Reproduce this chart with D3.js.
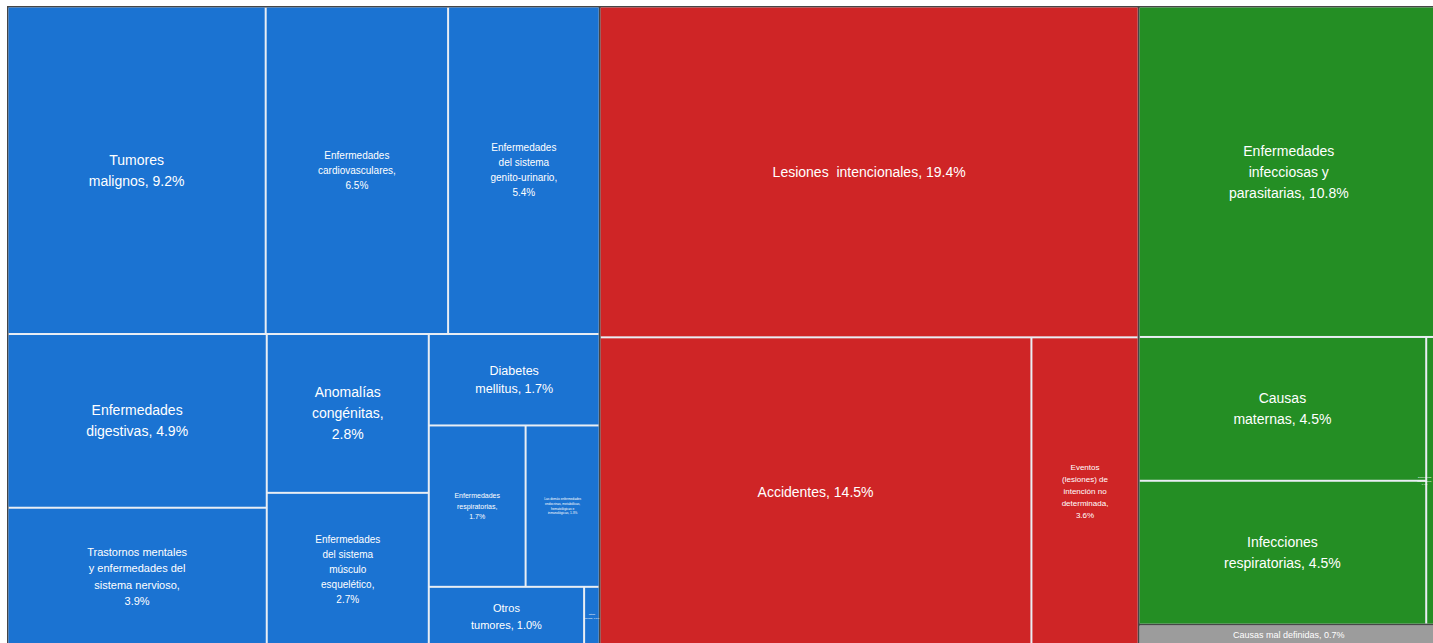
<html>
<head>
<script src="https://d3js.org/d3.v7.min.js"></script>
<style>
  body { margin: 0; background: #fff; }
  text { font-family: "Liberation Sans", Arial, sans-serif; fill: #fff; }
</style>
</head>
<body>
<svg id="treemap" width="1433" height="643"></svg>
<script>
// groups of causes (top level)
const groupNames = ["No transmisibles", "Lesiones", "Transmisibles", "Mal definidas"];
const groupColors = ["#1b73d2", "#cf2526", "#248e24", "#9c9c9c"];

// causes per group, "|" = line break, {v} = value
const blueCauses = [
  "Tumores|malignos, {v}%",
  "Enfermedades|cardiovasculares,|{v}%",
  "Enfermedades|del sistema|genito-urinario,|{v}%",
  "Enfermedades|digestivas, {v}%",
  "Trastornos mentales|y enfermedades del|sistema nervioso,|{v}%",
  "Anomalías|congénitas,|{v}%",
  "Enfermedades|del sistema|músculo|esquelético,|{v}%",
  "Diabetes|mellitus, {v}%",
  "Enfermedades|respiratorias,|{v}%",
  "Las demás enfermedades|endocrinas, metabólicas,|hematológicas e|inmunológicas, {v}%",
  "Otros|tumores, {v}%",
  "Otras|causas, {v}%"
];
const blueValues = [9.2, 6.5, 5.4, 4.9, 3.9, 2.8, 2.7, 1.7, 1.7, 1.3, 1.0, 0.1];

const redCauses = [
  "Lesiones  intencionales, {v}%",
  "Accidentes, {v}%",
  "Eventos|(lesiones) de|intención no|determinada,|{v}%"
];
const redValues = [19.4, 14.5, 3.6];

const greenCauses = [
  "Enfermedades|infecciosas y|parasitarias, {v}%",
  "Causas|maternas, {v}%",
  "Infecciones|respiratorias, {v}%",
  "Deficiencias|nutricionales,|{v}%"
];
const greenValues = [10.8, 4.5, 4.5, 0.4];

const grayCauses = ["Causas mal definidas, {v}%"];
const grayValues = [0.7];

// font size of each label (style, by group then index)
const labelSizes = [
  [14, 10, 10, 14, 11, 14, 10, 12.5, 7, 3.2, 11, 2.5],
  [14, 14, 8],
  [14, 14, 14, 2.5],
  [9]
];

// how many children go in each strip of the layout
const rowBreaks = {
  root: [1, 1, 1, 1],
  "No transmisibles": [3, 2, 2, 1, 2, 1, 1],
  "Lesiones": [1, 1, 1],
  "Transmisibles": [1, 2, 1],
  "Mal definidas": [1]
};

const causeLists = [blueCauses, redCauses, greenCauses, grayCauses];
const valueLists = [blueValues, redValues, greenValues, grayValues];

const data = {
  name: "root",
  children: groupNames.map((g, gi) => ({
    name: g,
    group: gi,
    children: causeLists[gi].map((c, i) => ({
      name: c, value: valueLists[gi][i], group: gi, index: i
    }))
  }))
};

// strips laid out like squarify, but with fixed row breaks
function stripTile(node, x0, y0, x1, y1) {
  const breaks = rowBreaks[node.data.name];
  let rest = node.value, i = 0;
  breaks.forEach(count => {
    const kids = node.children.slice(i, i + count);
    i += count;
    const sum = d3.sum(kids, d => d.value);
    const row = {children: kids, value: sum};
    const dx = x1 - x0, dy = y1 - y0;
    if (dx < dy) {
      const yy = y0 + dy * sum / rest;
      d3.treemapDice(row, x0, y0, x1, yy);
      y0 = yy;
    } else {
      const xx = x0 + dx * sum / rest;
      d3.treemapSlice(row, x0, y0, xx, y1);
      x0 = xx;
    }
    rest -= sum;
  });
}

const svg = d3.select('svg#treemap');
const width = +svg.attr('width');
const height = +svg.attr('height');
const margins = {left: 8.5, top: 7.5};

// dark frame behind everything
svg.append('rect')
  .attr('x', 7).attr('y', 6)
  .attr('width', width - 7).attr('height', height - 6)
  .attr('fill', '#464646');

const root = d3.hierarchy(data).sum(d => d.value || 0);

d3.treemap()
  .size([1438 - margins.left, 645 - margins.top])
  .tile(stripTile)
  .paddingInner(2)
  (root);

const chartArea = svg.append('g')
  .attr('transform', `translate(${margins.left},${margins.top})`);

// group backgrounds (white lines between leaves)
chartArea.append('g').selectAll('rect')
  .data(root.children)
  .join('rect')
  .attr('x', d => d.x0).attr('y', d => d.y0)
  .attr('width', d => d.x1 - d.x0).attr('height', d => d.y1 - d.y0)
  .attr('fill', '#e9eef4');

const leaves = chartArea.append('g').selectAll('g')
  .data(root.leaves())
  .join('g');

leaves.append('rect')
  .attr('x', d => d.x0).attr('y', d => d.y0)
  .attr('width', d => Math.max(0, d.x1 - d.x0))
  .attr('height', d => Math.max(0, d.y1 - d.y0))
  .attr('fill', d => groupColors[d.data.group]);

const visibleRight = width - margins.left;

leaves.each(function(d) {
  const size = labelSizes[d.data.group][d.data.index];
  const lines = d.data.name.replace('{v}', d3.format('.1f')(d.data.value)).split('|');
  const lh = size * 1.5;
  const cy = (d.y0 + d.y1) / 2;
  const t = d3.select(this).append('text')
    .attr('text-anchor', 'middle')
    .attr('font-size', size)
    .attr('xml:space', 'preserve');
  const spans = lines.map((line, i) => t.append('tspan')
      .attr('y', cy + (i - (lines.length - 1) / 2) * lh)
      .attr('dy', '0.35em')
      .text(line));
  // keep labels of cells cut by the right edge inside the picture
  const half = d3.max(spans, s => s.node().getComputedTextLength()) / 2;
  const cx = Math.min((d.x0 + d.x1) / 2, visibleRight - half - 1);
  spans.forEach(s => s.attr('x', cx));
});
</script>
</body>
</html>
